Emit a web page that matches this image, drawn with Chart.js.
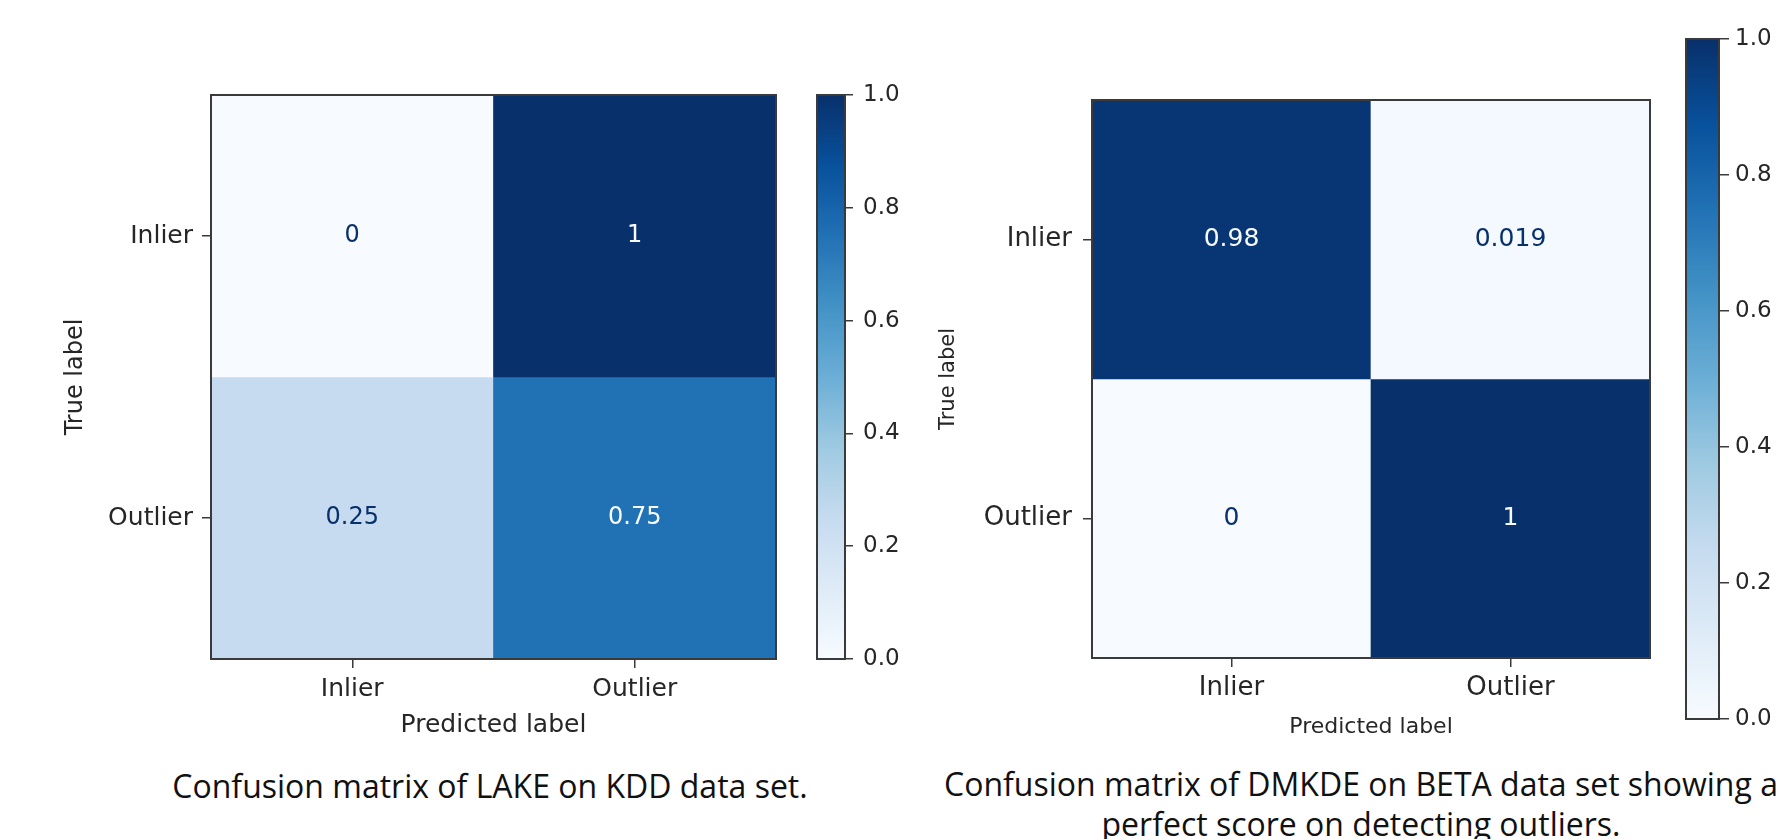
<!DOCTYPE html>
<html>
<head>
<meta charset="utf-8">
<script src="https://cdn.jsdelivr.net/npm/chart.js@4.4.1/dist/chart.umd.min.js"></script>
<style>
html, body { margin: 0; padding: 0; background: #ffffff; width: 1777px; height: 839px; overflow: hidden; }
.box { position: absolute; }
.cap { position: absolute; font-family: "Open Sans", "Noto Sans", sans-serif; font-size: 32px; line-height: 40px; color: #111; text-align: center; white-space: nowrap; }
</style>
</head>
<body>
<div class="box" style="left:0px;top:0px;width:800px;height:740px;"><canvas id="lakeMatrix"></canvas></div>
<div class="box" style="left:800px;top:0px;width:100px;height:740px;"><canvas id="lakeBar"></canvas></div>
<div class="box" style="left:880px;top:0px;width:790px;height:740px;"><canvas id="dmkdeMatrix"></canvas></div>
<div class="box" style="left:1670px;top:0px;width:107px;height:740px;"><canvas id="dmkdeBar"></canvas></div>

<div class="cap" style="left:90px;top:766px;width:800px;">Confusion matrix of LAKE on KDD data set.</div>
<div class="cap" style="left:861px;top:764px;width:1000px;">Confusion matrix of DMKDE on BETA data set showing a<br>perfect score on detecting outliers.</div>

<script>
// ---------------- data ----------------
const predictedLabels = ['Inlier', 'Outlier'];
const trueLabels = ['Inlier', 'Outlier'];

// LAKE on KDD (rows = true label, columns = predicted label)
const lakeInlierRow = [0, 1];
const lakeOutlierRow = [0.25, 0.75];

// DMKDE on BETA
const dmkdeInlierRow = [0.98, 0.019];
const dmkdeOutlierRow = [0, 1];

const colorbarTicks = [0.0, 0.2, 0.4, 0.6, 0.8, 1.0];

// ---------------- Blues colormap ----------------
const bluesStops = [
  [247, 251, 255], [222, 235, 247], [198, 219, 239], [158, 202, 225],
  [107, 174, 214], [66, 146, 198], [33, 113, 181], [8, 81, 156], [8, 48, 107]
];
function blues(t) {
  t = Math.max(0, Math.min(1, t));
  const p = t * (bluesStops.length - 1);
  const i = Math.min(Math.floor(p), bluesStops.length - 2);
  const f = p - i;
  const a = bluesStops[i], b = bluesStops[i + 1];
  const c = a.map((v, k) => Math.round(v + (b[k] - v) * f));
  return `rgb(${c[0]},${c[1]},${c[2]})`;
}
function fmt(v) { return String(Number(v.toPrecision(2))); }

const FAMILY = '"DejaVu Sans", sans-serif';
const TEXT = '#262626';
const AXIS = '#3a3a3a';

const framePlugin = {
  id: 'frame',
  afterDraw(chart) {
    const a = chart.chartArea, ctx = chart.ctx;
    ctx.save();
    ctx.strokeStyle = AXIS;
    ctx.lineWidth = 2;
    ctx.strokeRect(a.left, a.top, a.right - a.left, a.bottom - a.top);
    ctx.restore();
  }
};

function cellTextPlugin(fontSize) {
  return {
    id: 'cellText',
    afterDatasetsDraw(chart) {
      const ctx = chart.ctx;
      const all = chart.data.datasets.flatMap(d => d.values);
      const thresh = (Math.max(...all) + Math.min(...all)) / 2;
      chart.data.datasets.forEach((ds, i) => {
        const meta = chart.getDatasetMeta(i);
        meta.data.forEach((bar, j) => {
          const v = ds.values[j];
          const c = bar.getCenterPoint();
          ctx.save();
          ctx.font = `${fontSize}px ${FAMILY}`;
          ctx.fillStyle = v < thresh ? blues(1) : blues(0);
          ctx.textAlign = 'center';
          ctx.textBaseline = 'middle';
          ctx.fillText(fmt(v), c.x, c.y);
          ctx.restore();
        });
      });
    }
  };
}

function makeHeatmap(id, rows, L) {
  const datasets = rows.map((row, r) => ({
    label: trueLabels[r],
    data: row.map(() => [r, r + 1]),
    values: row,
    backgroundColor: row.map(v => blues(v)),
    borderWidth: 0,
    barPercentage: 1,
    categoryPercentage: 1,
    grouped: false
  }));
  return new Chart(document.getElementById(id), {
    type: 'bar',
    data: { labels: predictedLabels, datasets },
    options: {
      responsive: true,
      maintainAspectRatio: false,
      animation: false,
      layout: { padding: L.padding },
      plugins: { legend: { display: false }, tooltip: { enabled: false } },
      scales: {
        x: {
          type: 'category',
          offset: true,
          grid: { offset: false, drawOnChartArea: false, drawTicks: true, tickLength: L.tick, color: AXIS, lineWidth: 1.5 },
          border: { display: false },
          ticks: { font: { family: FAMILY, size: L.tickFont }, color: TEXT, padding: L.xPad, maxRotation: 0, autoSkip: false },
          title: { display: true, text: 'Predicted label', font: { family: FAMILY, size: L.xTitleFont }, color: TEXT, padding: { top: 0, bottom: L.xTitlePad } },
          afterFit: s => { s.height = L.xHeight; s.paddingLeft = 0; s.paddingRight = 0; }
        },
        y: {
          type: 'linear',
          min: 0,
          max: rows.length,
          reverse: true,
          afterBuildTicks: s => { s.ticks = trueLabels.map((_, i) => ({ value: i + 0.5 })); },
          grid: { drawOnChartArea: false, drawTicks: true, tickLength: L.tick, color: AXIS, lineWidth: 1.5 },
          border: { display: false },
          ticks: { font: { family: FAMILY, size: L.tickFont }, color: TEXT, padding: L.yPad, autoSkip: false,
                   callback: v => trueLabels[Math.floor(v)] },
          title: { display: true, text: 'True label', font: { family: FAMILY, size: L.yTitleFont }, color: TEXT, padding: { top: L.yTitlePad, bottom: 0 } },
          afterFit: s => { s.width = L.yWidth; s.paddingTop = 0; s.paddingBottom = 0; }
        }
      }
    },
    plugins: [cellTextPlugin(L.cellFont), framePlugin]
  });
}

function makeColorbar(id, L) {
  const lo = colorbarTicks[0], hi = colorbarTicks[colorbarTicks.length - 1];
  return new Chart(document.getElementById(id), {
    type: 'bar',
    data: {
      labels: [''],
      datasets: [{
        data: [[lo, hi]],
        backgroundColor: (ctx) => {
          const chart = ctx.chart, area = chart.chartArea;
          if (!area) return blues(0.5);
          const y = chart.scales.y;
          const g = chart.ctx.createLinearGradient(0, y.getPixelForValue(lo), 0, y.getPixelForValue(hi));
          bluesStops.forEach((c, k) => g.addColorStop(k / (bluesStops.length - 1), `rgb(${c[0]},${c[1]},${c[2]})`));
          return g;
        },
        borderWidth: 0,
        barPercentage: 1,
        categoryPercentage: 1
      }]
    },
    options: {
      responsive: true,
      maintainAspectRatio: false,
      animation: false,
      layout: { padding: L.padding },
      plugins: { legend: { display: false }, tooltip: { enabled: false } },
      scales: {
        x: { display: false },
        y: {
          position: 'right',
          min: lo,
          max: hi,
          afterBuildTicks: s => { s.ticks = colorbarTicks.map(v => ({ value: v })); },
          grid: { drawOnChartArea: false, drawTicks: true, tickLength: L.tick, color: AXIS, lineWidth: 1.5 },
          border: { display: false },
          ticks: { font: { family: FAMILY, size: L.tickFont }, color: TEXT, padding: L.pad, autoSkip: false,
                   callback: v => Number(v).toFixed(1) },
          afterFit: s => { s.width = L.yWidth; s.paddingTop = 0; s.paddingBottom = 0; }
        }
      }
    },
    plugins: [framePlugin]
  });
}

makeHeatmap('lakeMatrix', [lakeInlierRow, lakeOutlierRow], {
  padding: { top: 95, right: 24, left: 0, bottom: 0 },
  yWidth: 211, xHeight: 81, tick: 9,
  tickFont: 25, xTitleFont: 25, yTitleFont: 24, cellFont: 24,
  xPad: 6, yPad: 9, yTitlePad: 61, xTitlePad: 0
});
makeColorbar('lakeBar', {
  padding: { top: 95, right: 0, left: 17, bottom: 81 },
  yWidth: 55, tick: 8, pad: 10, tickFont: 23
});
makeHeatmap('dmkdeMatrix', [dmkdeInlierRow, dmkdeOutlierRow], {
  padding: { top: 100, right: 20, left: 0, bottom: 0 },
  yWidth: 212, xHeight: 82, tick: 9,
  tickFont: 26, xTitleFont: 22, yTitleFont: 21, cellFont: 25,
  xPad: 6, yPad: 11, yTitlePad: 56, xTitlePad: 0
});
makeColorbar('dmkdeBar', {
  padding: { top: 39, right: 0, left: 16, bottom: 21 },
  yWidth: 58, tick: 10, pad: 6, tickFont: 23
});
</script>
</body>
</html>
